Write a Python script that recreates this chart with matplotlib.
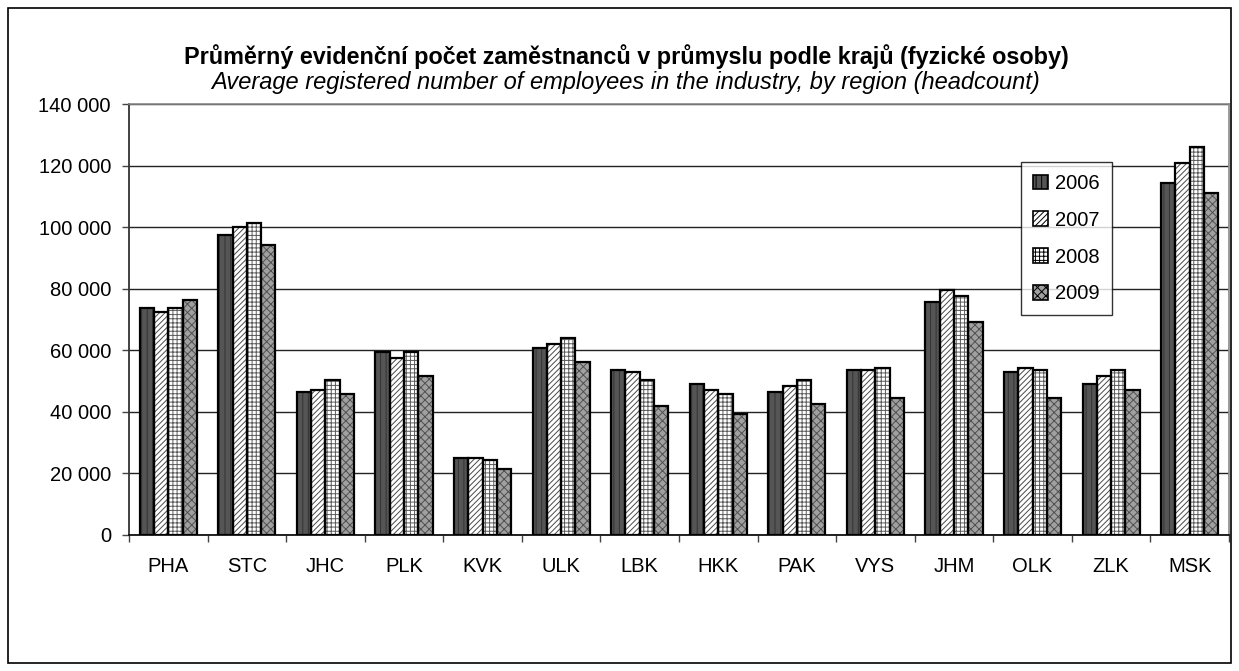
import matplotlib.pyplot as plt
import matplotlib.ticker as mticker
from matplotlib.patches import Rectangle
import numpy as np

plt.rcParams['font.family'] = ['Liberation Sans', 'DejaVu Sans']
plt.rcParams['hatch.linewidth'] = 0.7

# data
regions = ["PHA", "STC", "JHC", "PLK", "KVK", "ULK", "LBK", "HKK", "PAK", "VYS", "JHM", "OLK", "ZLK", "MSK"]
years = ["2006", "2007", "2008", "2009"]
y2006 = [73800, 97400, 46500, 59400, 25000, 60700, 53500, 49100, 46300, 53600, 75700, 53000, 49100, 114200]
y2007 = [72500, 99900, 47000, 57500, 25000, 62100, 52900, 47000, 48300, 53600, 79500, 54300, 51700, 120700]
y2008 = [73800, 101200, 50300, 59400, 24200, 64100, 50400, 45800, 50500, 54300, 77600, 53500, 53500, 126000]
y2009 = [76300, 94100, 45700, 51800, 21400, 56300, 41800, 39300, 42600, 44500, 69300, 44400, 47000, 111000]
series = [y2006, y2007, y2008, y2009]

# fill colour, hatch, hatch colour per year
styles = [("#555555", "|||", "#333333"),
          ("#ffffff", "//////", "#4a4a4a"),
          ("#ffffff", "++++", "#5a5a5a"),
          ("#a0a0a0", "xxxx", "#505050")]

W, H = 1239, 671
fig = plt.figure(figsize=(W / 100, H / 100), dpi=100)
ax = fig.add_axes([129 / W, 1 - 535 / H, 1100 / W, 431 / H])

x = np.arange(len(regions))
bw = 0.182
handles = []
for i, (vals, (fc, hatch, hc)) in enumerate(zip(series, styles)):
    pos = x + (i - 1.5) * bw
    ax.bar(pos, vals, bw, color=fc, hatch=hatch, edgecolor=hc, linewidth=0, zorder=3)
    ax.bar(pos, vals, bw, fill=False, edgecolor="black", linewidth=1.6, zorder=4)
    handles.append(Rectangle((0, 0), 1, 1, facecolor=fc, hatch=hatch, edgecolor="black", linewidth=1.2))

ax.set_xlim(-0.5, len(regions) - 0.5)
ax.set_ylim(0, 140000)
ax.yaxis.set_major_locator(mticker.MultipleLocator(20000))
ax.yaxis.set_major_formatter(mticker.FuncFormatter(lambda v, p: f"{int(v):,}".replace(",", " ")))
ax.grid(axis="y", color="#222222", linewidth=1.0, zorder=0)

ax.set_xticks(x)
ax.set_xticklabels(regions)
ax.set_xticks(np.arange(len(regions) + 1) - 0.5, minor=True)
ax.tick_params(axis="x", which="major", length=0, pad=16, labelsize=14.5)
ax.tick_params(axis="x", which="minor", length=5, direction="out", width=1, color="#444444")
ax.tick_params(axis="y", length=5, width=1, pad=8, labelsize=14.5, color="#444444")

for s in ["top", "right"]:
    ax.spines[s].set_color("#888888")
    ax.spines[s].set_linewidth(1.2)
ax.spines["left"].set_color("#333333")
ax.spines["bottom"].set_color("#111111")
ax.spines["left"].set_linewidth(1.3)
ax.spines["bottom"].set_linewidth(1.3)

leg = fig.legend(handles, years, loc="upper left", bbox_to_anchor=(1021 / W, 1 - 162 / H),
                 fontsize=14.5, frameon=True, fancybox=False, edgecolor="black",
                 handlelength=0.75, handleheight=0.75, handletextpad=0.35,
                 labelspacing=0.88, borderpad=0.6, borderaxespad=0)
leg.get_frame().set_linewidth(1.0)

fig.text(626 / W, 1 - 57 / H, "Průměrný evidenční počet zaměstnanců v průmyslu podle krajů (fyzické osoby)",
         ha="center", va="center", fontsize=16.8, fontweight="bold")
fig.text(626 / W, 1 - 83 / H, "Average registered number of employees in the industry, by region (headcount)",
         ha="center", va="center", fontsize=17, style="italic")

# outer chart border
fig.patches.append(Rectangle((8 / W, 1 - 663 / H), 1223 / W, 655 / H, transform=fig.transFigure,
                             fill=False, edgecolor="black", linewidth=1.2))

fig.savefig("out.png", dpi=100)
